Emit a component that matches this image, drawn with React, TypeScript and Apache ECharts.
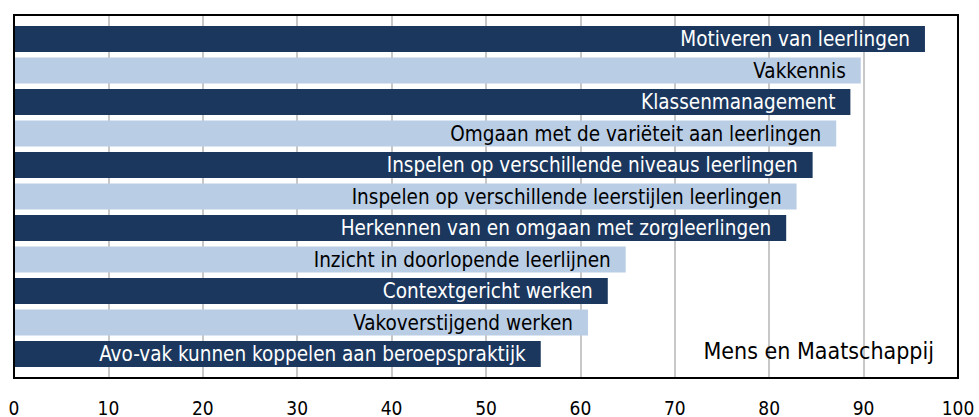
import React, { useEffect, useRef } from "react";
import * as echarts from "echarts";

const categories: string[] = [
  "Motiveren van leerlingen",
  "Vakkennis",
  "Klassenmanagement",
  "Omgaan met de variëteit aan leerlingen",
  "Inspelen op verschillende niveaus leerlingen",
  "Inspelen op verschillende leerstijlen leerlingen",
  "Herkennen van en omgaan met zorgleerlingen",
  "Inzicht in doorlopende leerlijnen",
  "Contextgericht werken",
  "Vakoverstijgend werken",
  "Avo-vak kunnen koppelen aan beroepspraktijk",
];

const values: number[] = [96.5, 89.7, 88.6, 87.1, 84.6, 82.9, 81.8, 64.8, 62.9, 60.8, 55.8];

const xTicks: number[] = [0, 10, 20, 30, 40, 50, 60, 70, 80, 90, 100];

const panelTitle = "Mens en Maatschappij";

const DARK = "#1b375e";
const LIGHT = "#b9cde5";
const FONT = "'DejaVu Sans Condensed', 'DejaVu Sans', sans-serif";

export default function App() {
  const ref = useRef<HTMLDivElement>(null);

  useEffect(() => {
    if (!ref.current) return;
    const chart = echarts.init(ref.current, undefined, { renderer: "svg" });

    const data = values.map((v, i) => {
      const dark = i % 2 === 0;
      return {
        value: v,
        itemStyle: { color: dark ? DARK : LIGHT },
        label: { color: dark ? "#ffffff" : "#000000" },
      };
    });

    chart.setOption({
      animation: false,
      backgroundColor: "#ffffff",
      grid: [
        { left: 14, right: 21, top: 15, bottom: 39, show: false },
        { left: 14, right: 21, top: 23.25, bottom: 47.25, show: false },
      ],
      xAxis: [
        {
          type: "value",
          gridIndex: 0,
          min: xTicks[0],
          max: xTicks[xTicks.length - 1],
          interval: 10,
          axisLine: { show: false },
          axisTick: { show: false },
          axisLabel: {
            color: "#000",
            fontSize: 19,
            fontFamily: FONT,
            margin: 21,
          },
          splitLine: { show: true, lineStyle: { color: "#c8c8c8", width: 2 } },
        },
        {
          type: "value",
          gridIndex: 1,
          min: xTicks[0],
          max: xTicks[xTicks.length - 1],
          interval: 10,
          show: false,
        },
      ],
      yAxis: [
        { type: "category", gridIndex: 0, data: categories, inverse: true, show: false },
        { type: "category", gridIndex: 1, data: categories, inverse: true, show: false },
      ],
      series: [
        {
          type: "bar",
          xAxisIndex: 1,
          yAxisIndex: 1,
          data,
          barCategoryGap: "17.5%",
          label: {
            show: true,
            position: "insideRight",
            distance: 15,
            fontSize: 20.5,
            fontFamily: FONT,
            formatter: (p: any) => p.name,
          },
        },
      ],
      graphic: [
        {
          type: "rect",
          z: 100,
          shape: { x: 14, y: 15, width: 944, height: 363 },
          style: { fill: "none", stroke: "#000", lineWidth: 2 },
        },
        {
          type: "text",
          z: 100,
          x: 934,
          y: 351,
          style: {
            text: panelTitle,
            align: "right",
            verticalAlign: "middle",
            fontSize: 23,
            fontFamily: FONT,
            fill: "#000",
          },
        },
      ],
    });

    return () => chart.dispose();
  }, []);

  return (
    <div
      ref={ref}
      style={{ position: "fixed", left: 0, top: 0, width: 979, height: 417 }}
    />
  );
}
